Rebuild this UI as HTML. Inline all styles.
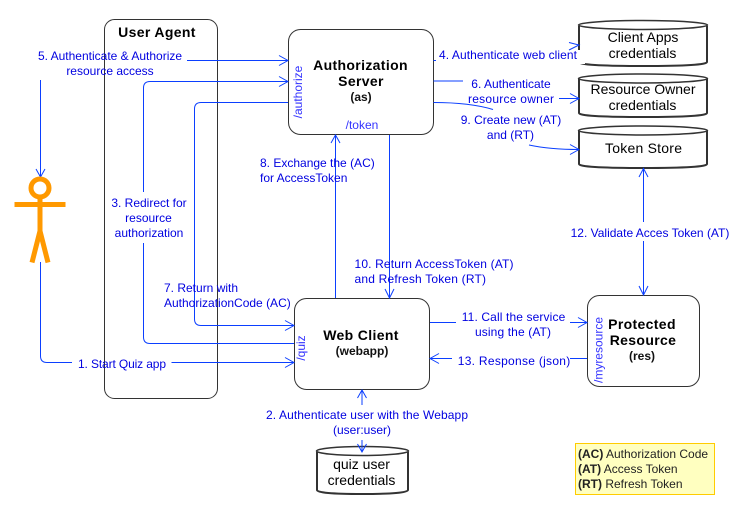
<!DOCTYPE html>
<html>
<head>
<meta charset="utf-8">
<style>
html,body{margin:0;padding:0;background:#fff;width:754px;height:514px;overflow:hidden}
svg{display:block}
text{font-family:"Liberation Sans",sans-serif}
.l{font-size:12px;fill:#0000e0;text-anchor:middle}
.s{font-size:12px;fill:#3333ff;text-anchor:middle}
.t{font-size:14px;font-weight:bold;fill:#000;text-anchor:middle;letter-spacing:.35px}
.p{font-size:12px;font-weight:bold;fill:#111;text-anchor:middle}
.c{font-size:14px;fill:#000;text-anchor:middle}
.k{font-size:12px;fill:#222}
.n{fill:#fff;stroke:#333;stroke-width:1}
.w{fill:none;stroke:#0b3fff;stroke-width:1}
.cy{fill:#fff;stroke:#333;stroke-width:2}
.ce{fill:#fff;stroke:#333;stroke-width:1.5}
</style>
</head>
<body>
<svg width="754" height="514" viewBox="0 0 754 514" xmlns="http://www.w3.org/2000/svg">
<rect width="754" height="514" fill="#fff"/>

<!-- boxes -->
<rect x="104.5" y="19.5" width="113" height="379" rx="10" fill="#fff" stroke="#333"/>
<rect class="n" x="288.5" y="29.5" width="145" height="105" rx="12"/>
<rect class="n" x="294.5" y="298.5" width="135" height="91" rx="12"/>
<rect class="n" x="587.5" y="295.5" width="112" height="91" rx="12"/>

<!-- cylinders -->
<g>
<path class="cy" d="M579 26V62Q579 66 643 66T707 62V26"/>
<ellipse class="ce" cx="643" cy="25" rx="64.500" ry="4.500"/>
<rect x="574" y="50" width="11" height="14" fill="#fff"/>
<path class="cy" d="M579 79V113Q579 117 643 117T707 113V79"/>
<ellipse class="ce" cx="643" cy="78.500" rx="64.500" ry="4.500"/>
<path class="cy" d="M579 131V164Q579 168 643 168T707 164V131"/>
<ellipse class="ce" cx="643" cy="130.500" rx="64.500" ry="4.500"/>
<path class="cy" d="M317 452V490Q317 494 362 494T408 490V452"/>
<ellipse class="ce" cx="362.500" cy="451" rx="46" ry="4.500"/>
</g>

<!-- connectors -->
<g class="w">
<path d="M187 60.5H288M279 55.5L288 60.5L279 65.5"/>
<path d="M40.5 80V177M36 169L40.5 177L45 169"/>
<path d="M143.5 192V88Q143.5 81.5 150 81.5H288M279 76.5L288 81.5L279 86.5"/>
<path d="M143.5 243V337Q143.5 343.5 150 343.5H294"/>
<path d="M288 102.5H201Q194.5 102.5 194.5 109V319Q194.5 325.5 201 325.5H294M285 320.5L294 325.5L285 330.5"/>
<path d="M40.5 262V356Q40.5 362.5 47 362.5H72"/>
<path d="M171.5 362.5H294M285 357.5L294 362.5L285 367.5"/>
<path d="M335.5 298V135M331 143L335.5 135L340 143"/>
<path d="M389.5 135V298M385 289L389.5 298L394 289"/>
<path d="M643.5 168.5V222M639 177L643.5 168.5L648 177"/>
<path d="M643.5 241V295M639 286L643.5 295L648 286"/>
<path d="M433.5 60.5H436"/>
<path d="M569 42.5L579 45L569 50"/>
<path d="M433.5 81H463"/>
<path d="M559 98.5H579M570 93.5L579 98.5L570 103.5"/>
<path d="M433.5 102.5Q470 102.5 493 109.5"/>
<path d="M529 145Q550 149.5 579 149.5M570 144.5L579 149.5L570 154.5"/>
<path d="M362 405V390M357.5 398L362 390L366.5 398"/>
<path d="M362 440V452M357.5 444L362 452L366.5 444"/>
<path d="M430 322.5H456"/>
<path d="M570 322.5H587M578 317.5L587 322.5L578 327.5"/>
<path d="M587 358.5H570"/>
<path d="M452 358.5H430M439 353.5L430 358.5L439 363.5"/>
</g>

<!-- actor -->
<g fill="none" stroke="#ff9900" stroke-width="5">
<circle cx="40" cy="188" r="9"/>
<path d="M14.5 204.5H65.5"/>
<path d="M40 198V231"/>
<path d="M40 231L32 262.5M40 231L48 262.5"/>
</g>

<!-- node titles -->
<text class="t" x="157" y="37">User Agent</text>
<text class="t" x="360.500" y="70">Authorization</text>
<text class="t" x="361" y="86">Server</text>
<text class="p" x="361" y="101">(as)</text>
<text class="t" x="361" y="340">Web Client</text>
<text class="p" x="362" y="355">(webapp)</text>
<text class="t" x="642" y="329">Protected</text>
<text class="t" x="643" y="345">Resource</text>
<text class="p" x="642" y="360">(res)</text>

<!-- sublabels -->
<text class="s" x="362" y="129">/token</text>
<text class="s" transform="translate(302 92) rotate(-90)">/authorize</text>
<text class="s" transform="translate(305 348) rotate(-90)">/quiz</text>
<text class="s" transform="translate(602.500 350) rotate(-90)">/myresource</text>

<!-- cylinder text -->
<text class="c" x="643" y="42">Client Apps</text>
<text class="c" x="642.500" y="58">credentials</text>
<text class="c" x="643" y="94">Resource Owner</text>
<text class="c" x="642.500" y="110">credentials</text>
<text class="c" x="643.500" y="153" textLength="77" lengthAdjust="spacing">Token Store</text>
<text class="c" x="361.500" y="469">quiz user</text>
<text class="c" x="361.500" y="485">credentials</text>

<!-- connector labels -->
<text class="l" x="110" y="60">5. Authenticate &amp; Authorize</text>
<text class="l" x="110" y="75">resource access</text>
<text class="l" x="149" y="207">3. Redirect for</text>
<text class="l" x="148.500" y="222">resource</text>
<text class="l" x="149" y="237">authorization</text>
<text class="l" x="164" y="292" style="text-anchor:start">7. Return with</text>
<text class="l" x="164" y="307" style="text-anchor:start">AuthorizationCode (AC)</text>
<text class="l" x="122" y="368" textLength="88" lengthAdjust="spacing">1. Start Quiz app</text>
<text class="l" x="260" y="167" style="text-anchor:start">8. Exchange the (AC)</text>
<text class="l" x="260" y="182" style="text-anchor:start">for AccessToken</text>
<text class="l" x="354.500" y="268" style="text-anchor:start" textLength="159" lengthAdjust="spacing">10. Return AccessToken (AT)</text>
<text class="l" x="354.500" y="283" style="text-anchor:start" textLength="131.500" lengthAdjust="spacing">and Refresh Token (RT)</text>
<text class="l" x="508" y="59" textLength="138" lengthAdjust="spacing">4. Authenticate web client</text>
<text class="l" x="511" y="88">6. Authenticate</text>
<text class="l" x="511" y="103" textLength="86" lengthAdjust="spacing">resource owner</text>
<text class="l" x="511" y="124">9. Create new (AT)</text>
<text class="l" x="510.500" y="139">and (RT)</text>
<text class="l" x="650" y="237">12. Validate Acces Token (AT)</text>
<text class="l" x="513.500" y="321" textLength="103.500" lengthAdjust="spacing">11. Call the service</text>
<text class="l" x="513" y="336" textLength="76" lengthAdjust="spacing">using the (AT)</text>
<text class="l" x="514" y="365" textLength="112.500" lengthAdjust="spacing">13. Response (json)</text>
<text class="l" x="367" y="419" textLength="202" lengthAdjust="spacing">2. Authenticate user with the Webapp</text>
<text class="l" x="362" y="434">(user:user)</text>

<!-- legend -->
<rect x="575.500" y="443.500" width="139" height="51" fill="#ffffc0" stroke="#ffcc00"/>
<text class="k" x="578" y="458"><tspan font-weight="bold">(AC)</tspan> Authorization Code</text>
<text class="k" x="578" y="473"><tspan font-weight="bold">(AT)</tspan> Access Token</text>
<text class="k" x="578" y="488"><tspan font-weight="bold">(RT)</tspan> Refresh Token</text>
</svg>
</body>
</html>
